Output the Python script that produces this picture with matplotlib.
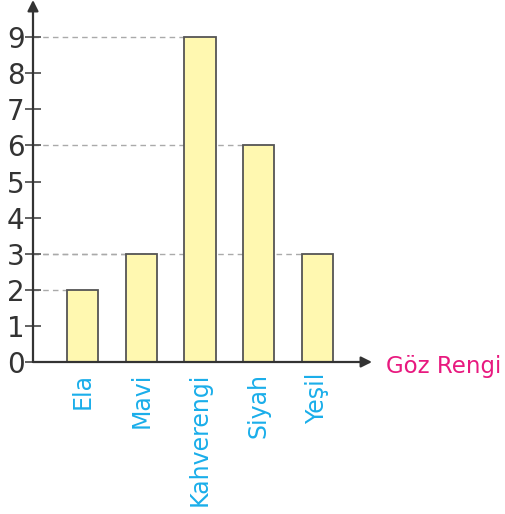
import matplotlib
matplotlib.use('Agg')
import matplotlib.pyplot as plt

categories = ['Ela', 'Mavi', 'Kahverengi', 'Siyah', 'Yeşil']
counts = [2, 3, 9, 6, 3]
yticks = list(range(0, 10))
xlabel = 'Göz Rengi'

bar_w = 0.53
axis_col = '#555555'

fig = plt.figure(figsize=(5.06, 5.14), dpi=100)
ax = fig.add_axes([33/506, 152/514, (372-33)/506, 362/514])
x = list(range(len(categories)))

# dashed guide lines from the axis to each bar
for xi, v in zip(x, counts):
    ax.plot([-0.843, xi - bar_w/2], [v, v], ls=(0, (4, 3)), color='#aaaaaa', lw=1, zorder=1)

ax.bar(x, counts, width=bar_w, color='#fff8b0', edgecolor='#555555', linewidth=1.3, zorder=2)

ax.set_xlim(-0.843, 4.93)
ax.set_ylim(0, 10.03)
for s in ['top', 'right', 'left', 'bottom']:
    ax.spines[s].set_visible(False)

# axes with arrow heads
ax.annotate('', xy=(1, 0), xytext=(0, 0), xycoords='axes fraction',
            arrowprops=dict(arrowstyle='-|>', color='#333333', lw=1.6, mutation_scale=16,
                            shrinkA=0, shrinkB=0), annotation_clip=False)
ax.annotate('', xy=(0, 1), xytext=(0, 0), xycoords='axes fraction',
            arrowprops=dict(arrowstyle='-|>', color='#333333', lw=1.6, mutation_scale=16,
                            shrinkA=0, shrinkB=0), annotation_clip=False)

ax.set_yticks(yticks)
ax.tick_params(axis='y', direction='inout', length=12, width=1.3, color=axis_col,
               labelsize=20, labelcolor='#333333', pad=0)
ax.set_xticks(x)
ax.set_xticklabels(categories, rotation=90, fontsize=17, color='#1aaeea')
ax.tick_params(axis='x', length=0, pad=8)

fig.text(386/506, 1 - 366/514, xlabel, color='#e8197f', fontsize=16.5, va='center', ha='left')

fig.savefig('out.png', dpi=100)
